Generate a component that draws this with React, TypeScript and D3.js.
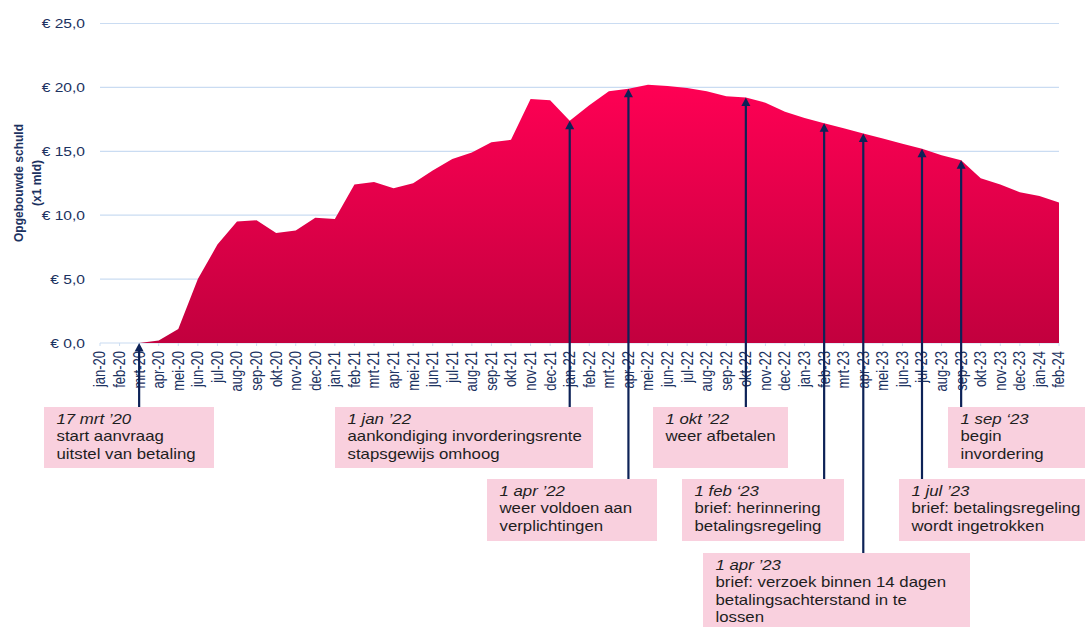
import React from 'react';
import * as d3 from 'd3';

const MONTHS = [
  'jan-20','feb-20','mrt-20','apr-20','mei-20','jun-20','jul-20','aug-20','sep-20','okt-20','nov-20','dec-20',
  'jan-21','feb-21','mrt-21','apr-21','mei-21','jun-21','jul-21','aug-21','sep-21','okt-21','nov-21','dec-21',
  'jan-22','feb-22','mrt-22','apr-22','mei-22','jun-22','jul-22','aug-22','sep-22','okt-22','nov-22','dec-22',
  'jan-23','feb-23','mrt-23','apr-23','mei-23','jun-23','jul-23','aug-23','sep-23','okt-23','nov-23','dec-23',
  'jan-24','feb-24'
];

const DEBT: (number | null)[] = [
  null, null, 0, 0.2, 1.1, 5.0, 7.7, 9.5, 9.6, 8.6, 8.8, 9.8,
  9.7, 12.4, 12.6, 12.1, 12.5, 13.5, 14.4, 14.9, 15.7, 15.9, 19.1, 19.0,
  17.4, 18.6, 19.7, 19.9, 20.2, 20.1, 19.95, 19.7, 19.3, 19.2, 18.8, 18.1,
  17.6, 17.2, 16.8, 16.4, 16.0, 15.6, 15.2, 14.7, 14.3, 12.9, 12.4, 11.8,
  11.5, 11.0
];

const Y_TICKS = [0, 5, 10, 15, 20, 25];
const Y_LABELS = ['€ 0,0', '€ 5,0', '€ 10,0', '€ 15,0', '€ 20,0', '€ 25,0'];
const Y_TITLE = ['Opgebouwde schuld', '(x1 mld)'];

const EVENT_MONTHS = ['mrt-20', 'jan-22', 'apr-22', 'okt-22', 'feb-23', 'apr-23', 'jul-23', 'sep-23'];
const EVENT_DATES = ['17 mrt ’20', '1 jan ’22', '1 apr ’22', '1 okt ’22', '1 feb ‘23', '1 apr ’23', '1 jul ’23', '1 sep ‘23'];
const EVENT_TEXT = [
  ['start aanvraag', 'uitstel van betaling'],
  ['aankondiging invorderingsrente', 'stapsgewijs omhoog'],
  ['weer voldoen aan', 'verplichtingen'],
  ['weer afbetalen'],
  ['brief: herinnering', 'betalingsregeling'],
  ['brief: verzoek binnen 14 dagen', 'betalingsachterstand in te', 'lossen'],
  ['brief: betalingsregeling', 'wordt ingetrokken'],
  ['begin', 'invordering'],
];

// layout of the annotation boxes (x, y, w, h)
const BOX_LAYOUT = [
  [44, 407, 170, 61],
  [335, 407, 258, 61],
  [487, 479, 170, 62],
  [653, 407, 135, 61],
  [682, 479, 162, 62],
  [703, 553, 267, 80],
  [899, 479, 190, 62],
  [948, 407, 140, 61],
];

const W = 1085;
const H = 627;
const FONT = "'Liberation Sans', Arial, sans-serif";
const NAVY = '#1c3261';
const ARROW = '#0d2257';
const GRID = '#cadcf2';
const PINK = '#f9d0de';
const STRETCH = 1.2;

export default function App() {
  const x = d3.scalePoint<string>().domain(MONTHS).range([100, 1059]).padding(0);
  const y = d3.scaleLinear().domain([0, 25]).range([343, 23.5]);

  const pts = MONTHS.map((m, i) => ({ m, v: DEBT[i] }));
  const area = d3
    .area<{ m: string; v: number | null }>()
    .defined((d) => d.v !== null)
    .x((d) => x(d.m) as number)
    .y0(y(0))
    .y1((d) => y(d.v as number))
    .curve(d3.curveLinear);

  const valueAt = (m: string) => DEBT[MONTHS.indexOf(m)] as number;

  return (
    <svg
      width={W}
      height={H}
      style={{ position: 'absolute', left: 0, top: 0, background: '#fff' }}
      fontFamily={FONT}
    >
      <defs>
        <linearGradient id="areaGrad" gradientUnits="userSpaceOnUse" x1={0} x2={0} y1={y(20.3)} y2={y(0)}>
          <stop offset="0" stopColor="#ff0054" />
          <stop offset="1" stopColor="#c2003e" />
        </linearGradient>
      </defs>

      {/* gridlines */}
      {Y_TICKS.map((t) => (
        <line key={'g' + t} x1={100} x2={1059} y1={y(t)} y2={y(t)} stroke={GRID} strokeWidth={1.2} />
      ))}

      {/* area */}
      <path d={area(pts) || ''} fill="url(#areaGrad)" />

      {/* x ticks */}
      {MONTHS.map((m) => (
        <line key={'t' + m} x1={x(m)} x2={x(m)} y1={y(0)} y2={y(0) + 3} stroke={GRID} strokeWidth={1} />
      ))}

      {/* x labels */}
      {MONTHS.map((m) => (
        <text
          key={'l' + m}
          transform={`translate(${x(m)},351) rotate(-90) scale(1,${STRETCH})`}
          textAnchor="end"
          dominantBaseline="central"
          fontSize={13}
          fill={NAVY}
        >
          {m}
        </text>
      ))}

      {/* y labels */}
      {Y_TICKS.map((t, i) => (
        <text
          key={'y' + t}
          transform={`translate(85,${y(t)}) scale(${STRETCH},1)`}
          textAnchor="end"
          dominantBaseline="central"
          fontSize={13}
          fill={NAVY}
        >
          {Y_LABELS[i]}
        </text>
      ))}

      {/* y title */}
      {Y_TITLE.map((s, i) => (
        <text
          key={'yt' + i}
          transform={`translate(${19 + i * 18},183) rotate(-90)`}
          textAnchor="middle"
          dominantBaseline="central"
          fontSize={12}
          fontWeight="bold"
          fill={NAVY}
        >
          {s}
        </text>
      ))}

      {/* annotation boxes */}
      {BOX_LAYOUT.map(([bx, by, bw, bh], i) => (
        <g key={'b' + i}>
          <rect x={bx} y={by} width={bw} height={bh} fill={PINK} />
          <text
            transform={`translate(${bx + 12.5},${by + 17}) scale(${STRETCH},1)`}
            fontSize={14}
            fontStyle="italic"
            fill="#1e1e1e"
          >
            {EVENT_DATES[i]}
          </text>
          {EVENT_TEXT[i].map((line, j) => (
            <text
              key={j}
              transform={`translate(${bx + 12.5},${by + 17 + (j + 1) * 17.3}) scale(${STRETCH},1)`}
              fontSize={14}
              fill="#1e1e1e"
            >
              {line}
            </text>
          ))}
        </g>
      ))}

      {/* arrows */}
      {EVENT_MONTHS.map((m, i) => {
        const ax = x(m) as number;
        const tip = y(valueAt(m));
        const bottom = BOX_LAYOUT[i][1];
        return (
          <g key={'a' + m}>
            <line x1={ax} x2={ax} y1={tip + 6} y2={bottom} stroke={ARROW} strokeWidth={2.2} />
            <path d={`M${ax},${tip} L${ax + 4.5},${tip + 8.5} L${ax - 4.5},${tip + 8.5} Z`} fill={ARROW} />
          </g>
        );
      })}
    </svg>
  );
}
